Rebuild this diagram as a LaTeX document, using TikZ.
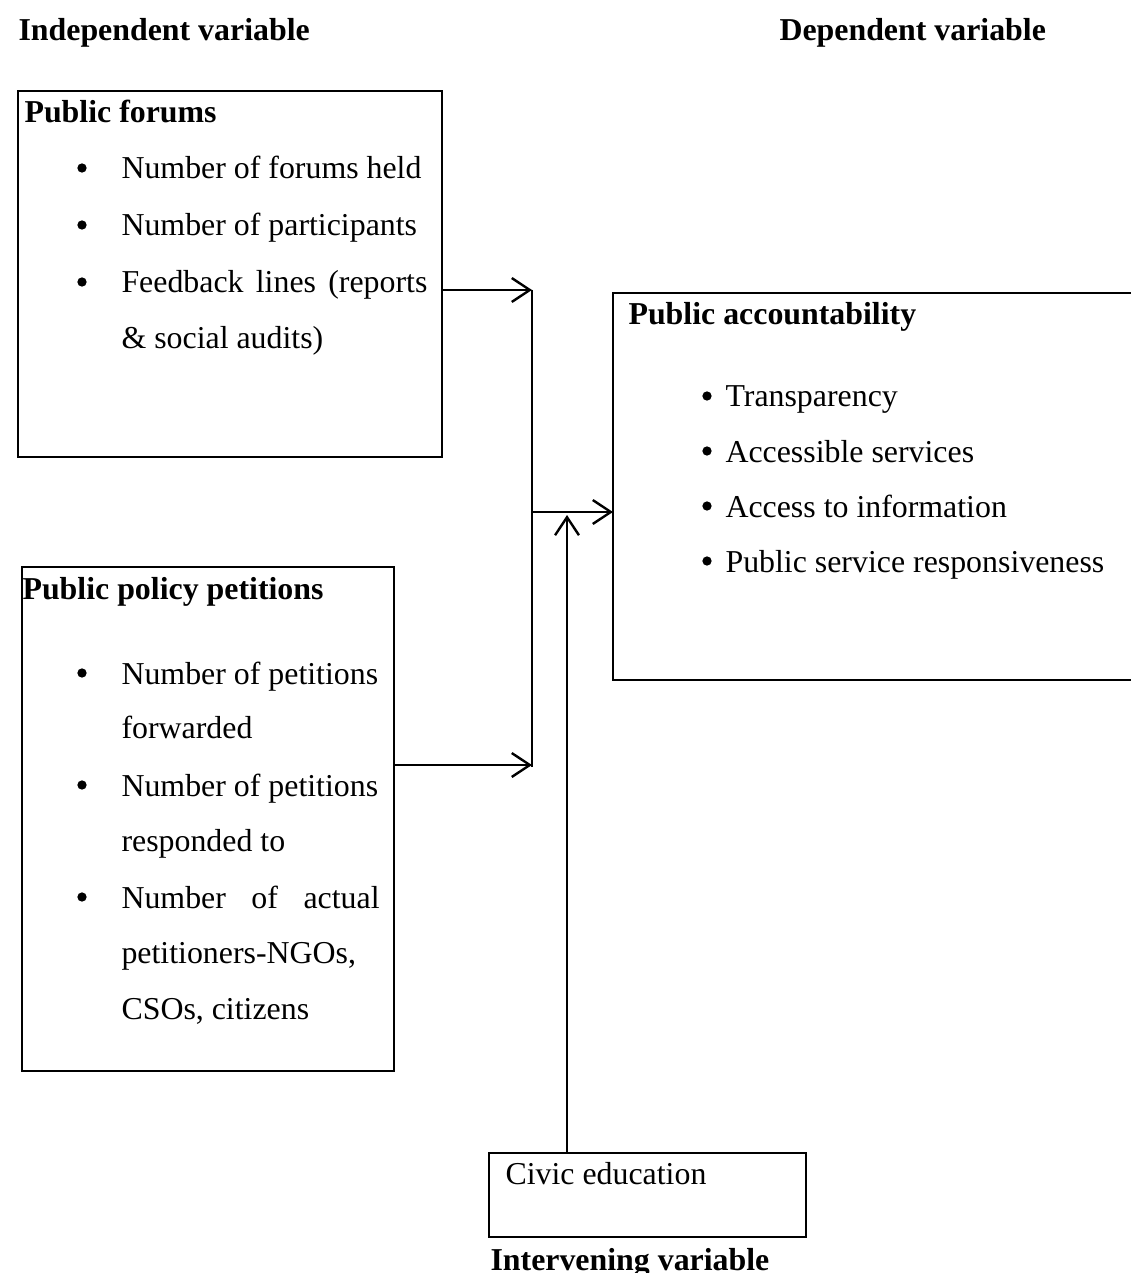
\documentclass[tikz,border=0pt]{standalone}
\usepackage{fontspec}
\setmainfont{Liberation Serif}
\usetikzlibrary{arrows.meta}
\newcommand\pxu{0.3766pt}
\tikzset{
  box/.style={draw, line width=0.9pt, minimum width=#1, inner sep=0pt, outer sep=0pt},
  txt/.style={anchor=base west, inner sep=0pt, font=\fontsize{12}{14}\selectfont},
  btxt/.style={txt, font=\fontsize{12}{14}\selectfont\bfseries},
  conn/.style={line width=0.9pt, -{Straight Barb[length=6.8pt,width=9pt,line width=0.9pt]}},
  bul/.style={circle, fill, inner sep=0pt, minimum size=3.5pt},
}
\begin{document}
\begin{tikzpicture}[x=\pxu,y=-\pxu]
\useasboundingbox (0,0) rectangle (1130,1273);
% headings
\node[btxt] (hind) at (18,41) {Independent variable};
\node[btxt] (hdep) at (779,41) {Dependent variable};
% boxes
\node[box=424*\pxu, minimum height=366*\pxu] (b1) at (230,274) {};
\node[box=372*\pxu, minimum height=504*\pxu] (b2) at (208,819) {};
\node[box=540*\pxu, minimum height=387*\pxu] (b3) at (883,486.5) {};
\node[box=317*\pxu, minimum height=84*\pxu] (b4) at (647.5,1195) {};
% box 1 text
\node[btxt] (t1) at (24,123) {Public forums};
\node[bul] (p11) at (82,168) {};
\node[txt] (t11) at (121,179) {Number of forums held};
\node[bul] (p12) at (82,225) {};
\node[txt] (t12) at (121,236) {Number of participants};
\node[bul] (p13) at (82,282) {};
\node[txt] (t13) at (121,293) {\makebox[115.2pt][s]{Feedback lines (reports}};
\node[txt] (t14) at (121,349) {\& social audits)};
% box 2 text
\node[btxt] (t2) at (22,599) {Public policy petitions};
\node[bul] (p21) at (82,673) {};
\node[txt] (t21) at (121,684) {Number of petitions};
\node[txt] (t22) at (121,738) {forwarded};
\node[bul] (p22) at (82,785) {};
\node[txt] (t23) at (121,796) {Number of petitions};
\node[txt] (t24) at (121,851) {responded to};
\node[bul] (p23) at (82,897) {};
\node[txt] (t25) at (121,908) {\makebox[97.2pt][s]{Number of actual}};
\node[txt] (t26) at (121,963) {petitioners-NGOs,};
\node[txt] (t27) at (121,1019) {CSOs, citizens};
% box 3 text
\node[btxt] (t3) at (628,325) {Public accountability};
\node[bul] (p31) at (707,396) {};
\node[txt] (t31) at (725,407) {Transparency};
\node[bul] (p32) at (707,451) {};
\node[txt] (t32) at (725,462) {Accessible services};
\node[bul] (p33) at (707,506) {};
\node[txt] (t33) at (725,517) {Access to information};
\node[bul] (p34) at (707,561) {};
\node[txt] (t34) at (725,572) {Public service responsiveness};
% civic
\node[txt] (t4) at (505,1184) {Civic education};
\node[btxt] (t5) at (490,1270) {Intervening variable};
% connectors
\coordinate (vt) at (532,290);
\coordinate (vm) at (532,512);
\coordinate (v2) at (532,765);
\coordinate (vb) at (532,767);
\coordinate (up) at (567,515);
\draw[line width=0.9pt] (vt) -- (vb);
\draw[conn] (b1.east |- vt) -- (vt);
\draw[conn] (b2.east |- v2) -- (v2);
\draw[conn] (vm) -- (b3.west |- vm);
\draw[conn] (b4.north -| up) -- (up);
\end{tikzpicture}
\end{document}
